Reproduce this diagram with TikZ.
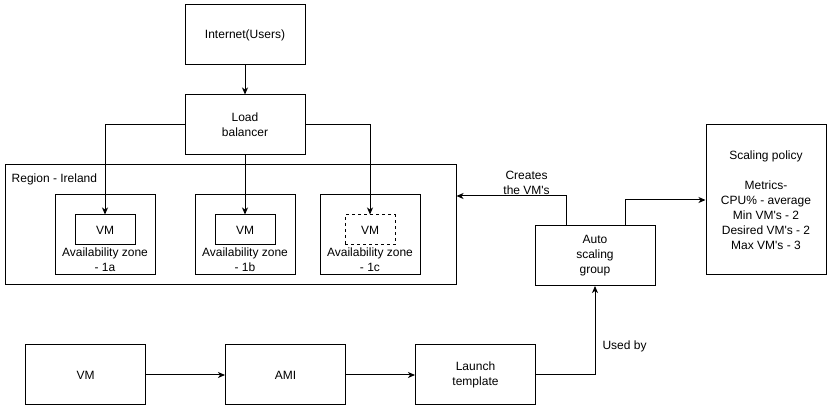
\documentclass[tikz,border=0pt]{standalone}
\usepackage{fontspec}
\setmainfont{Liberation Sans}
\usetikzlibrary{arrows.meta, positioning}

\begin{document}
\begin{tikzpicture}[
  x=1pt, y=-1pt,
  every node/.style={font=\fontsize{12}{15}\selectfont},
  box/.style={draw, line width=1pt, align=center, minimum height=60pt,
              minimum width=120pt, inner sep=2pt},
  zone/.style={draw, line width=1pt, minimum height=80pt, minimum width=100pt},
  vmbox/.style={draw, line width=1pt, minimum height=30pt, minimum width=60pt,
                inner sep=0pt},
  lbl/.style={align=center, inner sep=1pt},
  arr/.style={-{Stealth[length=7pt, width=6pt, inset=2pt]}, line width=1pt}]
  \useasboundingbox (0,0) rectangle (831,411);
  % top: users and load balancer
  \node[box] (inet) at (245,35) {Internet(Users)};
  \node[box, below=29pt of inet] (lb) {Load\\balancer};
  % region with the three zones
  \node[draw, line width=1pt, minimum width=451pt, minimum height=120pt] (region)
        at (230.5,225) {};
  \node[lbl, anchor=west, inner sep=0pt] (regtxt)
        at ([xshift=7pt, yshift=-15pt]region.north west) {Region - Ireland};
  \node[zone] (az1) at (105,235) {};
  \node[zone] (az2) at (245,235) {};
  \node[zone] (az3) at (370,235) {};
  \node[vmbox] (vm1) at ([yshift=5pt]az1.center) {VM};
  \node[vmbox] (vm2) at ([yshift=5pt]az2.center) {VM};
  \node[vmbox, dash pattern=on 3pt off 3pt, minimum width=50pt] (vm3)
        at ([yshift=5pt]az3.center) {VM};
  \node[lbl, below=1pt of vm1] (az1txt) {Availability zone\\- 1a};
  \node[lbl, below=1pt of vm2] (az2txt) {Availability zone\\- 1b};
  \node[lbl, below=1pt of vm3] (az3txt) {Availability zone\\- 1c};
  % scaling
  \node[box] (asg) at (595,255.5) {Auto\\scaling\\group};
  \node[box, minimum height=150pt] (policy) at (766,200)
        {Scaling policy\\[15pt]Metrics-\\CPU\% - average\\Min VM\textquotesingle s - 2\\
         Desired VM\textquotesingle s - 2\\Max VM\textquotesingle s - 3};
  % bottom row
  \node[box] (bvm) at (85.5,375) {VM};
  \node[box, right=79pt of bvm] (ami) {AMI};
  \node[box, right=69pt of ami] (launch) {Launch\\template};

  \draw[arr] (inet) -- (lb);
  \draw[arr] (lb.west) -| (vm1.north);
  \draw[arr] (lb.south) -- (vm2.north);
  \draw[arr] (lb.east) -| (vm3.north);
  \draw[arr] ([xshift=-29pt]asg.north) |- node[lbl, pos=0.68, above]
        {Creates\\the VM\textquotesingle s} ([yshift=29pt]region.east);
  \draw[arr] ([xshift=30pt]asg.north) |- (policy.west);
  \draw[arr] (bvm) -- (ami);
  \draw[arr] (ami) -- (launch);
  \draw[arr] (launch.east) -| node[lbl, pos=0.66, right=6pt] {Used by} (asg.south);
\end{tikzpicture}
\end{document}
